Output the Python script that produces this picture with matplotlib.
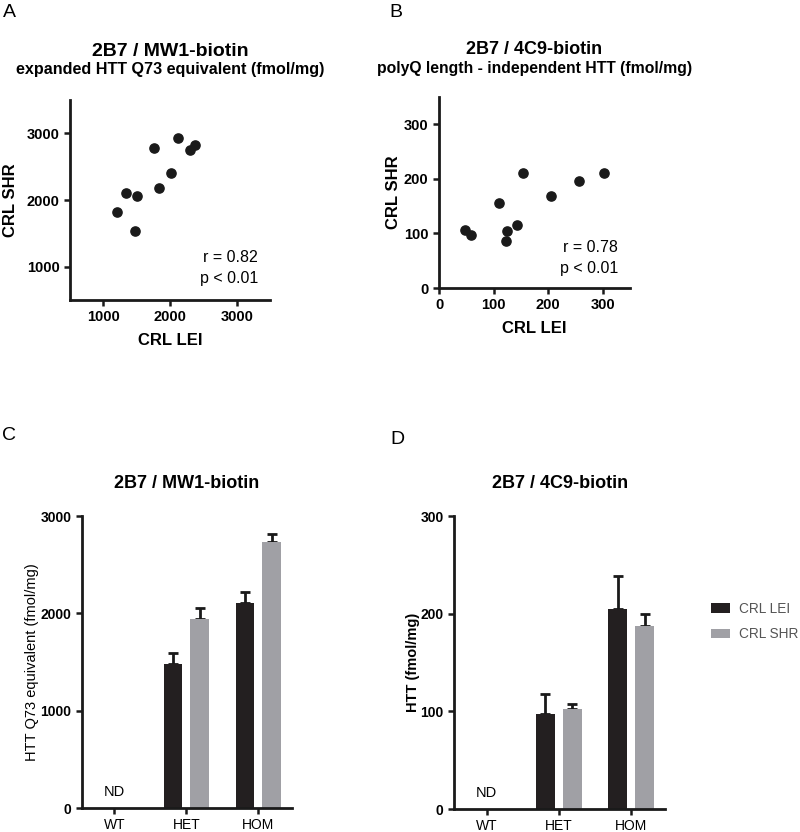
import matplotlib
matplotlib.use('Agg')
import matplotlib.pyplot as plt
import numpy as np

plt.rcParams['font.family'] = ['Liberation Sans', 'DejaVu Sans']

# ===========================
# data
# ===========================
# A: 2B7 / MW1-biotin scatter
mw1_lei = [1200, 1345, 1510, 1480, 1830, 1755, 2010, 2125, 2295, 2370]
mw1_shr = [1815, 2110, 2060, 1540, 2175, 2780, 2400, 2925, 2750, 2820]

# B: 2B7 / 4C9-biotin scatter
c9_lei = [47, 58, 109, 153, 124, 123, 142, 206, 256, 303]
c9_shr = [107, 97, 155, 210, 105, 87, 116, 168, 197, 210]

# C / D: bar charts
GENOTYPES = ["WT", "HET", "HOM"]
SERIES = ["CRL LEI", "CRL SHR"]
mw1_lei_mean = [0, 1478, 2111]
mw1_lei_err = [0, 113, 109]
mw1_shr_mean = [0, 1940, 2737]
mw1_shr_err = [0, 113, 82]
c9_lei_mean = [0, 97.5, 205]
c9_lei_err = [0, 20, 34]
c9_shr_mean = [0, 102.6, 187.5]
c9_shr_err = [0, 4.8, 12]

COL_LEI = "#231f20"
COL_SHR = "#a0a0a5"


def style_axes(ax, lw=2.0):
    for s in ["top", "right"]:
        ax.spines[s].set_visible(False)
    for s in ["left", "bottom"]:
        ax.spines[s].set_linewidth(lw)
        ax.spines[s].set_color("#1a1a1a")
    ax.tick_params(width=1.8, length=4, color="#1a1a1a")


fig = plt.figure(figsize=(8, 8.32), dpi=100)

# ===========================
# A
# ===========================
axA = fig.add_axes([0.0875, 0.6394, 0.25, 0.2404])
axA.scatter(mw1_lei, mw1_shr, s=44, color="#1a1a1a", zorder=3)
axA.set_xlim(500, 3500)
axA.set_ylim(500, 3500)
axA.set_xticks([1000, 2000, 3000])
axA.set_yticks([1000, 2000, 3000])
style_axes(axA)
for lab in axA.get_xticklabels() + axA.get_yticklabels():
    lab.set_fontweight('bold')
    lab.set_fontsize(10.5)
axA.set_xlabel("CRL LEI", fontsize=12, fontweight='bold', labelpad=6)
axA.set_ylabel("CRL SHR", fontsize=12, fontweight='bold', labelpad=6)
axA.text(0.94, 0.16, "r = 0.82\np < 0.01", transform=axA.transAxes,
         ha='right', va='center', fontsize=11.5, linespacing=1.45)
fig.text(0.2125, 0.938, "2B7 / MW1-biotin", ha='center', va='center',
         fontsize=14, fontweight='bold')
fig.text(0.2125, 0.916, "expanded HTT Q73 equivalent (fmol/mg)", ha='center',
         va='center', fontsize=11.6, fontweight='bold')

# ===========================
# B
# ===========================
axB = fig.add_axes([0.5488, 0.6538, 0.2388, 0.2296])
axB.scatter(c9_lei, c9_shr, s=44, color="#1a1a1a", zorder=3)
axB.set_xlim(0, 350)
axB.set_ylim(0, 350)
axB.set_xticks([0, 100, 200, 300])
axB.set_yticks([0, 100, 200, 300])
style_axes(axB)
for lab in axB.get_xticklabels() + axB.get_yticklabels():
    lab.set_fontweight('bold')
    lab.set_fontsize(10.5)
axB.set_xlabel("CRL LEI", fontsize=12, fontweight='bold', labelpad=6)
axB.set_ylabel("CRL SHR", fontsize=12, fontweight='bold', labelpad=2)
axB.text(0.937, 0.157, "r = 0.78\np < 0.01", transform=axB.transAxes,
         ha='right', va='center', fontsize=11.5, linespacing=1.45)
fig.text(0.668, 0.941, "2B7 / 4C9-biotin", ha='center', va='center',
         fontsize=13, fontweight='bold')
fig.text(0.668, 0.918, "polyQ length - independent HTT (fmol/mg)", ha='center',
         va='center', fontsize=11.3, fontweight='bold')


# ===========================
# C, D bar charts
# ===========================
def bar_panel(ax, lei, lei_err, shr, shr_err, ymax, yticks, ylabel, label_x):
    x = np.arange(len(GENOTYPES))
    w = 0.26
    off = 0.185
    ek = dict(ecolor="#1a1a1a", elinewidth=2, capsize=3.5, capthick=2)
    ax.bar(x - off, lei, w, color=COL_LEI, label=SERIES[0], zorder=2)
    ax.bar(x + off, shr, w, color=COL_SHR, label=SERIES[1], zorder=2)
    # upper error bars only
    ax.errorbar(x[1:] - off, lei[1:], yerr=[np.zeros(2), lei_err[1:]],
                fmt='none', zorder=1, **ek)
    ax.errorbar(x[1:] + off, shr[1:], yerr=[np.zeros(2), shr_err[1:]],
                fmt='none', zorder=1, **ek)
    ax.set_xlim(-0.45, 2.47)
    ax.set_ylim(0, ymax)
    ax.set_yticks(yticks)
    ax.set_xticks(x)
    ax.set_xticklabels(GENOTYPES, fontsize=10)
    style_axes(ax)
    for lab in ax.get_yticklabels():
        lab.set_fontweight('bold')
        lab.set_fontsize(10)
    ax.set_ylabel(ylabel, fontsize=10.5)
    ax.yaxis.set_label_coords(label_x, 0.5)
    ax.text(0, ymax * 0.03, "ND", ha='center', va='bottom', fontsize=10.5)


axC = fig.add_axes([0.1025, 0.0288, 0.2625, 0.351])
bar_panel(axC, mw1_lei_mean, mw1_lei_err, mw1_shr_mean, mw1_shr_err,
          3000, [0, 1000, 2000, 3000], "HTT Q73 equivalent (fmol/mg)", -0.205)
axC.set_title("2B7 / MW1-biotin", fontsize=13, fontweight='bold', pad=20)

axD = fig.add_axes([0.5675, 0.0276, 0.264, 0.352])
bar_panel(axD, c9_lei_mean, c9_lei_err, c9_shr_mean, c9_shr_err,
          300, [0, 100, 200, 300], "HTT (fmol/mg)", -0.16)
axD.yaxis.label.set_fontweight('bold')
axD.set_title("2B7 / 4C9-biotin", fontsize=13, fontweight='bold', pad=20)
leg = axD.legend(loc='center left', bbox_to_anchor=(1.16, 0.64), frameon=False,
                 fontsize=9.8, handlelength=1.35, handleheight=0.7,
                 labelspacing=0.85, handletextpad=0.7)
for t in leg.get_texts():
    t.set_color("#555555")

# panel letters
fig.text(0.004, 0.995, "A", fontsize=14, va='top', ha='left')
fig.text(0.487, 0.995, "B", fontsize=14, va='top', ha='left')
fig.text(0.003, 0.487, "C", fontsize=14, va='top', ha='left')
fig.text(0.488, 0.482, "D", fontsize=14, va='top', ha='left')

plt.savefig("out.png", dpi=100)
plt.close()
